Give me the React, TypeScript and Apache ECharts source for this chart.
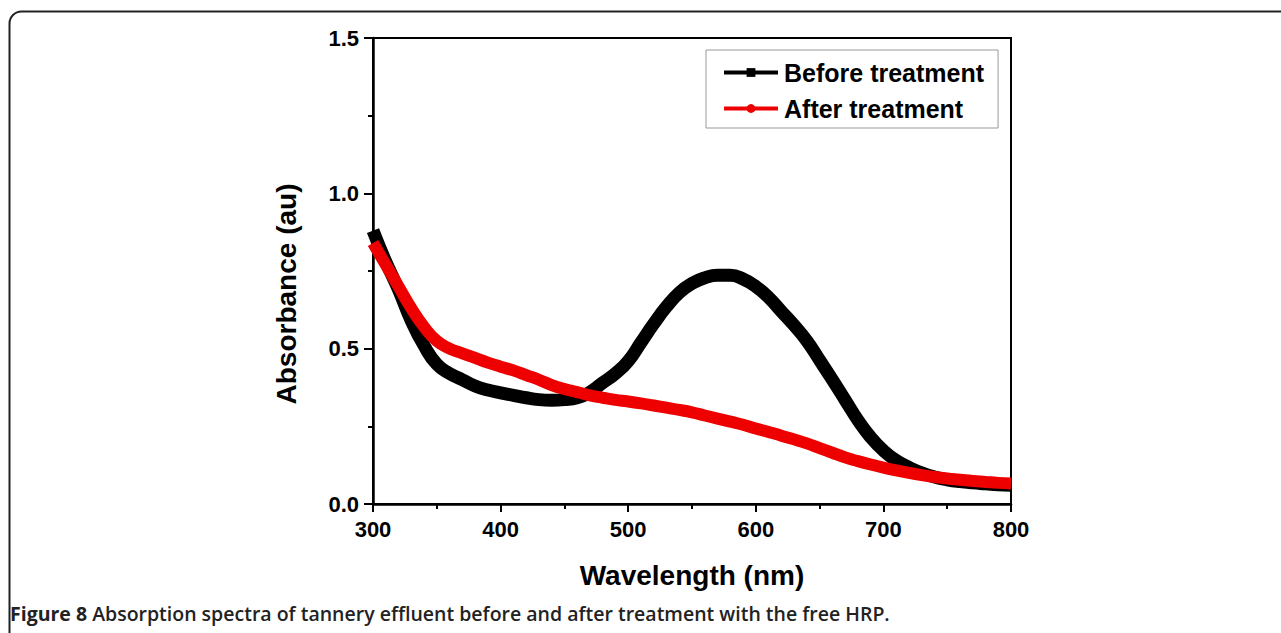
import React, { useEffect, useRef } from "react";
import * as echarts from "echarts";

const wavelengths = [300,310,320,330,340,350,360,370,380,390,400,410,420,430,440,450,460,470,480,490,500,510,520,530,540,550,560,570,580,590,600,610,620,630,640,650,660,670,680,690,700,710,720,730,740,750,760,770,780,790,800];
const beforeTreatment = [0.88,0.78,0.69,0.59,0.51,0.45,0.42,0.40,0.38,0.367,0.358,0.35,0.342,0.336,0.334,0.336,0.342,0.36,0.39,0.42,0.46,0.52,0.58,0.635,0.68,0.71,0.728,0.736,0.736,0.724,0.70,0.665,0.62,0.575,0.525,0.463,0.40,0.335,0.27,0.215,0.172,0.14,0.118,0.10,0.087,0.078,0.072,0.068,0.065,0.062,0.06];
const afterTreatment = [0.84,0.77,0.70,0.63,0.57,0.525,0.50,0.485,0.47,0.455,0.442,0.43,0.415,0.40,0.383,0.37,0.36,0.35,0.342,0.335,0.33,0.324,0.317,0.31,0.303,0.295,0.285,0.275,0.265,0.255,0.243,0.232,0.22,0.208,0.195,0.18,0.165,0.15,0.138,0.127,0.117,0.108,0.10,0.093,0.087,0.082,0.078,0.074,0.071,0.068,0.066];

const seriesNames = ["Before treatment", "After treatment"];
const xAxisTitle = "Wavelength (nm)";
const yAxisTitle = "Absorbance (au)";
const captionBold = "Figure 8";
const captionRest = " Absorption spectra of tannery effluent before and after treatment with the free HRP.";

export default function App() {
  const ref = useRef<HTMLDivElement>(null);
  useEffect(() => {
    if (!ref.current) return;
    const chart = echarts.init(ref.current, undefined, { renderer: "svg" });
    const axisFont = { fontFamily: "Liberation Sans, Arial, sans-serif", fontWeight: "bold" as const, color: "#000" };
    chart.setOption({
      animation: false,
      backgroundColor: "#fff",
      grid: { left: 373, top: 38, right: 270, bottom: 129, show: true, borderColor: "#000", borderWidth: 2 },
      legend: {
        left: 706,
        top: 50,
        orient: "vertical",
        selectedMode: false,
        borderColor: "#999",
        borderWidth: 1,
        padding: [10, 14, 7, 16],
        itemGap: 11,
        itemWidth: 54,
        itemHeight: 11,
        lineStyle: { width: 4 },
        textStyle: { ...axisFont, fontSize: 25, padding: [0, 0, 0, 1] },
        data: seriesNames,
      },
      xAxis: {
        type: "value",
        min: 300,
        max: 800,
        interval: 100,
        name: xAxisTitle,
        nameLocation: "middle",
        nameGap: 57,
        nameTextStyle: { ...axisFont, fontSize: 28 },
        axisLine: { lineStyle: { color: "#000", width: 2.5 } },
        axisTick: { length: 8, lineStyle: { width: 2, color: "#000" } },
        minorTick: { show: true, splitNumber: 2, length: 5, lineStyle: { width: 2, color: "#000" } },
        splitLine: { show: false },
        axisLabel: { ...axisFont, fontSize: 22, margin: 14 },
      },
      yAxis: {
        type: "value",
        min: 0,
        max: 1.5,
        interval: 0.5,
        name: yAxisTitle,
        nameLocation: "middle",
        nameGap: 73,
        nameTextStyle: { ...axisFont, fontSize: 28, padding: [0, 46, 0, 0] },
        axisLine: { lineStyle: { color: "#000", width: 2.5 } },
        axisTick: { length: 9, lineStyle: { width: 2, color: "#000" } },
        minorTick: { show: true, splitNumber: 2, length: 5, lineStyle: { width: 2, color: "#000" } },
        splitLine: { show: false },
        axisLabel: { ...axisFont, fontSize: 22, margin: 14, formatter: (v: number) => v.toFixed(1) },
      },
      series: [
        {
          name: seriesNames[0],
          type: "line",
          data: wavelengths.map((w, i) => [w, beforeTreatment[i]]),
          smooth: 0.5,
          symbol: "rect",
          showSymbol: false,
          lineStyle: { color: "#000", width: 13 },
          itemStyle: { color: "#000" },
          z: 2,
        },
        {
          name: seriesNames[1],
          type: "line",
          data: wavelengths.map((w, i) => [w, afterTreatment[i]]),
          smooth: 0.5,
          symbol: "circle",
          showSymbol: false,
          lineStyle: { color: "#ee0000", width: 12 },
          itemStyle: { color: "#ee0000" },
          z: 3,
        },
      ],
      graphic: [
        {
          type: "rect",
          shape: { x: 9.5, y: 11.5, width: 1400, height: 800, r: 12 },
          style: { fill: "none", stroke: "#222", lineWidth: 2 },
          silent: true,
        },
        {
          type: "text",
          left: 10,
          top: 603,
          style: {
            text: "{b|" + captionBold + "}{r|" + captionRest + "}",
            rich: {
              b: { fontFamily: "Open Sans", fontWeight: "bold", fontSize: 19.5, fill: "#222" },
              r: { fontFamily: "Open Sans", fontWeight: 600, fontSize: 19.5, fill: "#222" },
            },
          },
        },
      ],
    });
    return () => chart.dispose();
  }, []);
  return <div ref={ref} style={{ position: "fixed", left: 0, top: 0, width: 1281, height: 633 }} />;
}
